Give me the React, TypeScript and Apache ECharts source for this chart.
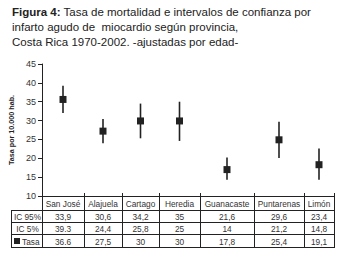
import React, { useEffect, useRef } from "react";
import * as echarts from "echarts";

// ---- data ----
const provinces = ["San José", "Alajuela", "Cartago", "Heredia", "Guanacaste", "Puntarenas", "Limón"];
const rate = [35.6, 27.2, 29.9, 29.9, 17.0, 24.9, 18.3];
const lower = [32.0, 24.0, 25.3, 24.6, 14.3, 20.1, 14.3];
const upper = [39.2, 30.4, 34.5, 35.0, 20.2, 29.7, 22.6];
// table texts as printed
const ic95Text = ["33,9", "30,6", "34,2", "35", "21,6", "29,6", "23,4"];
const ic5Text = ["39.3", "24,4", "25,8", "25", "14", "21,2", "14,8"];
const tasaText = ["36.6", "27,5", "30", "30", "17,8", "25,4", "19,1"];
const yTicks = { min: 10, max: 45, interval: 5 };

// ---- layout ----
const W = 349;
const H = 261;
const GRID_LEFT = 42;
const GRID_TOP = 64;
const GRID_BOTTOM_Y = 196;
const COL_WIDTHS = [42, 38, 37, 41, 54, 50, 30];
const TABLE_LEFT = 11;
const ROW_Y = [196, 210, 222, 234, 247];
const FONT = "'Liberation Sans', Arial, sans-serif";
const INK = "#222";
const TXT = "#333";

export default function App() {
  const ref = useRef<HTMLDivElement>(null);
  useEffect(() => {
    if (!ref.current) return;
    const chart = echarts.init(ref.current, null, { renderer: "svg" });
    const totalW = COL_WIDTHS.reduce((a, b) => a + b, 0);
    const edges: number[] = [0];
    COL_WIDTHS.forEach((w) => edges.push(edges[edges.length - 1] + w));
    const centers = COL_WIDTHS.map((w, i) => edges[i] + w / 2);
    const tableRight = GRID_LEFT + totalW;

    const graphics: any[] = [];
    const line = (x1: number, y1: number, x2: number, y2: number) =>
      graphics.push({
        type: "line",
        shape: { x1, y1, x2, y2 },
        style: { stroke: INK, lineWidth: 1 },
        silent: true,
      });
    // horizontal lines
    line(GRID_LEFT, ROW_Y[0] + 0.5, tableRight + 0.5, ROW_Y[0] + 0.5);
    for (let r = 1; r < ROW_Y.length; r++) line(TABLE_LEFT, ROW_Y[r] + 0.5, tableRight + 0.5, ROW_Y[r] + 0.5);
    // vertical lines
    line(TABLE_LEFT + 0.5, ROW_Y[1], TABLE_LEFT + 0.5, ROW_Y[4] + 1);
    edges.forEach((e, i) => {
      const x = GRID_LEFT + e + 0.5;
      line(x, i === 0 ? ROW_Y[0] : ROW_Y[0] - 3, x, ROW_Y[4] + 1);
    });
    const cellText = (text: string, x: number, y: number, align = "center") =>
      graphics.push({
        type: "text",
        x,
        y,
        style: {
          text,
          fill: TXT,
          font: `8.3px ${FONT}`,
          align,
          verticalAlign: "middle",
        },
        silent: true,
      });
    provinces.forEach((p, i) => {
      const cx = GRID_LEFT + centers[i];
      cellText(p, cx, (ROW_Y[0] + ROW_Y[1]) / 2 + 1);
      cellText(ic95Text[i], cx, (ROW_Y[1] + ROW_Y[2]) / 2 + 1);
      cellText(ic5Text[i], cx, (ROW_Y[2] + ROW_Y[3]) / 2 + 1);
      cellText(tasaText[i], cx, (ROW_Y[3] + ROW_Y[4]) / 2 + 1);
    });
    const labCx = (TABLE_LEFT + GRID_LEFT) / 2 + 1;
    cellText("IC 95%", labCx, (ROW_Y[1] + ROW_Y[2]) / 2 + 1);
    cellText("IC 5%", labCx, (ROW_Y[2] + ROW_Y[3]) / 2 + 1);
    graphics.push({
      type: "rect",
      shape: { x: 14, y: (ROW_Y[3] + ROW_Y[4]) / 2 - 2.5, width: 6, height: 6 },
      style: { fill: INK },
      silent: true,
    });
    cellText("Tasa", 22, (ROW_Y[3] + ROW_Y[4]) / 2 + 1, "left");

    chart.setOption({
      animation: false,
      title: {
        left: 12,
        top: 4,
        padding: 0,
        text: "{b|Figura 4:} Tasa de mortalidad e intervalos de confianza por\ninfarto agudo de  miocardio según provincia,\nCosta Rica 1970-2002. -ajustadas por edad-",
        textStyle: {
          fontFamily: FONT,
          fontSize: 11.5,
          fontWeight: "normal",
          color: INK,
          lineHeight: 15.3,
          rich: {
            b: { fontFamily: FONT, fontSize: 11.5, fontWeight: "bold", color: INK, lineHeight: 15.3 },
          },
        },
      },
      grid: {
        left: GRID_LEFT,
        top: GRID_TOP,
        width: totalW,
        height: GRID_BOTTOM_Y - GRID_TOP,
        containLabel: false,
      },
      xAxis: { type: "value", min: 0, max: totalW, show: false },
      yAxis: {
        type: "value",
        min: yTicks.min,
        max: yTicks.max,
        interval: yTicks.interval,
        name: "Tasa por 10.000 hab.",
        nameLocation: "middle",
        nameRotate: 90,
        nameGap: 22,
        nameTextStyle: { fontFamily: FONT, fontSize: 7.2, fontWeight: "bold", color: INK },
        axisLine: { show: true, lineStyle: { color: INK, width: 1 } },
        axisTick: { show: true, length: 4, lineStyle: { color: INK } },
        axisLabel: { fontFamily: FONT, fontSize: 9, color: TXT, margin: 6 },
        splitLine: { show: false },
      },
      graphic: graphics,
      series: [
        {
          type: "custom",
          data: provinces.map((_, i) => [centers[i], lower[i], upper[i]]),
          renderItem: (_params: any, api: any) => {
            const x = api.value(0);
            const lo = api.coord([x, api.value(1)]);
            const hi = api.coord([x, api.value(2)]);
            return {
              type: "line",
              shape: { x1: lo[0], y1: lo[1], x2: hi[0], y2: hi[1] },
              style: { stroke: INK, lineWidth: 1.6 },
            };
          },
          silent: true,
          z: 2,
        },
        {
          type: "scatter",
          symbol: "rect",
          symbolSize: 7,
          itemStyle: { color: INK, opacity: 1 },
          data: provinces.map((_, i) => [centers[i], rate[i]]),
          silent: true,
          z: 3,
        },
      ],
    });
    return () => chart.dispose();
  }, []);
  return (
    <div
      ref={ref}
      style={{ position: "fixed", left: 0, top: 0, width: W, height: H, background: "#fff" }}
    />
  );
}
